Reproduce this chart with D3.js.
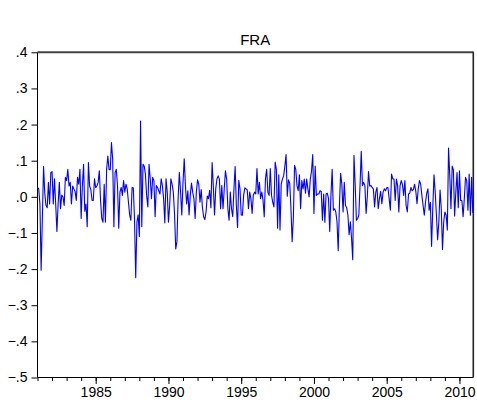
<!DOCTYPE html>
<html>
<head>
<meta charset="utf-8">
<script src="https://cdn.jsdelivr.net/npm/d3@7"></script>
<style>
  body { margin: 0; background: #fff; }
  svg { display: block; }
  text { font-family: Arial, "Liberation Sans", sans-serif; fill: #000; }
</style>
</head>
<body>
<svg id="chart" width="477" height="407"></svg>
<script>
// Monthly series, 1981M01 - 2010M12
const title = "FRA";
const startYear = 1981;
const returns = [
  0.026, 0.022, -0.02, -0.203, -0.06, 0.084, 0.01, -0.024, -0.03, 0.04, -0.02, 0.067,      // 1981
  0.07, -0.02, 0.05, -0.02, -0.096, -0.02, 0.04, -0.033, 0.005, 0.0, -0.024, 0.054,       // 1982
  0.045, 0.076, 0.03, 0.04, -0.02, 0.03, 0.022, 0.015, -0.01, 0.054, 0.035, 0.076,        // 1983
  -0.06, 0.03, 0.09, -0.04, -0.02, -0.083, 0.095, 0.03, 0.02, -0.01, -0.01, 0.05,         // 1984
  0.025, 0.03, 0.04, 0.072, -0.01, -0.06, -0.07, 0.035, -0.07, 0.076, 0.113, 0.076,       // 1985
  0.075, 0.15, 0.104, -0.083, 0.067, 0.076, 0.03, -0.087, 0.013, 0.026, 0.004, 0.045,     // 1986
  0.013, 0.035, 0.022, -0.015, -0.05, -0.065, 0.026, 0.025, -0.06, -0.224, -0.07, -0.05,  // 1987
  -0.11, 0.21, -0.083, 0.09, 0.085, 0.063, 0.004, -0.028, 0.09, 0.05, -0.005, 0.054,      // 1988
  0.045, -0.055, 0.031, 0.026, 0.017, 0.008, 0.05, 0.031, -0.005, -0.072, 0.05, 0.013,    // 1989
  -0.07, -0.024, 0.05, 0.035, 0.013, -0.046, -0.144, -0.124, -0.001, 0.067, 0.013, -0.05, // 1990
  0.04, 0.105, 0.031, -0.02, 0.017, -0.05, 0.004, 0.038, 0.013, -0.005, -0.06, 0.013,     // 1991
  0.047, 0.035, -0.015, 0.02, -0.028, -0.055, -0.063, -0.042, 0.002, -0.005, 0.018, -0.03,// 1992
  0.095, 0.03, -0.05, 0.022, 0.05, 0.058, 0.049, -0.033, 0.031, -0.033, 0.022, 0.072,     // 1993
  0.049, -0.033, -0.065, 0.013, -0.033, -0.055, 0.022, 0.084, -0.024, -0.085, 0.046, 0.022,// 1994
  -0.05, -0.051, 0.004, 0.025, 0.022, 0.019, -0.033, 0.013, -0.005, -0.046, 0.005, 0.013, // 1995
  0.008, 0.078, 0.008, 0.04, -0.005, 0.013, -0.01, -0.055, 0.05, 0.076, 0.013, 0.004,     // 1996
  0.078, 0.004, -0.015, -0.028, 0.096, 0.076, -0.087, 0.061, -0.092, 0.035, 0.049, 0.058, // 1997
  0.085, 0.117, 0.002, 0.047, 0.038, -0.03, -0.124, -0.06, 0.087, 0.076, 0.031, 0.017,    // 1998
  0.061, -0.033, 0.045, 0.022, 0.049, 0.01, 0.049, 0.022, 0.0, 0.049, 0.072, 0.117,       // 1999
  -0.046, 0.085, 0.004, 0.008, 0.008, 0.017, 0.015, -0.065, 0.008, -0.07, 0.008, 0.01,    // 2000
  -0.005, -0.096, 0.004, 0.076, -0.037, -0.033, -0.042, -0.069, -0.149, -0.024, 0.065, 0.035, // 2001
  -0.042, 0.04, -0.024, -0.03, -0.051, -0.105, -0.069, -0.115, -0.174, 0.115, 0.035, -0.065,  // 2002
  -0.06, -0.051, 0.031, 0.126, 0.031, 0.04, 0.031, -0.046, 0.0, 0.07, 0.03, 0.031,        // 2003
  0.026, 0.022, -0.028, 0.013, 0.026, -0.033, -0.005, 0.015, -0.019, 0.013, 0.022, 0.017, // 2004
  0.025, 0.026, -0.005, -0.037, 0.063, 0.05, 0.049, -0.01, 0.049, 0.031, -0.042, 0.03,    // 2005
  0.045, 0.033, 0.004, 0.045, -0.024, -0.042, 0.008, 0.01, 0.026, 0.017, 0.02, 0.035,     // 2006
  0.015, -0.019, 0.022, 0.045, 0.035, 0.004, -0.024, -0.051, -0.015, 0.01, 0.022, -0.037, // 2007
  -0.015, -0.137, -0.03, 0.061, 0.013, -0.051, -0.119, -0.069, 0.019, -0.033, -0.146, -0.069, // 2008
  -0.042, -0.051, -0.092, 0.135, 0.058, -0.033, 0.085, 0.075, -0.053, 0.013, 0.067, -0.03, // 2009
  0.072, -0.01, -0.01, -0.055, -0.005, 0.054, 0.045, -0.037, 0.063, -0.051, 0.054, -0.045 // 2010
];
const yTicks = [0.4, 0.3, 0.2, 0.1, 0.0, -0.1, -0.2, -0.3, -0.4, -0.5];
const xMinorYears = d3.range(1981, 2011);
const xLabelYears = [1985, 1990, 1995, 2000, 2005, 2010];

const svg = d3.select("#chart");
const plot = { left: 37.5, right: 472.8, top: 52.3, bottom: 377.5 };

const points = returns.map((v, i) => ({ t: startYear + i / 12, v }));

const x = d3.scaleLinear()
  .domain([startYear, startYear + (returns.length - 1) / 12])
  .range([plot.left, plot.right]);
const y = d3.scaleLinear()
  .domain([-0.5, 0.4])
  .range([plot.bottom, plot.top]);

// EViews-style labels: drop the leading zero (".4", "-.1")
const fmt = d => d3.format(".1f")(d).replace("0.", ".");

// title
svg.append("text")
  .attr("x", (plot.left + plot.right) / 2)
  .attr("y", 45)
  .attr("text-anchor", "middle")
  .style("font-size", "15px")
  .text(title);

// y axis
const yAxis = svg.append("g")
  .attr("transform", `translate(${plot.left},0)`)
  .call(d3.axisLeft(y).tickValues(yTicks).tickFormat(fmt).tickSize(6).tickPadding(4));
yAxis.select(".domain").remove();
yAxis.selectAll("line").attr("stroke", "#000");
yAxis.selectAll("text").style("font-size", "14px").style("font-family", "Arial, 'Liberation Sans', sans-serif");

// x axis: yearly minor ticks, labelled every five years
const xMinor = svg.append("g")
  .attr("transform", `translate(0,${plot.bottom})`)
  .call(d3.axisBottom(x).tickValues(xMinorYears).tickFormat("").tickSize(3.5));
xMinor.select(".domain").remove();
xMinor.selectAll("line").attr("stroke", "#000");

const xAxis = svg.append("g")
  .attr("transform", `translate(0,${plot.bottom})`)
  .call(d3.axisBottom(x).tickValues(xLabelYears).tickFormat(d3.format("d")).tickSize(6.5).tickPadding(3.5));
xAxis.select(".domain").remove();
xAxis.selectAll("line").attr("stroke", "#000");
xAxis.selectAll("text").style("font-size", "14px").style("font-family", "Arial, 'Liberation Sans', sans-serif");

// frame
svg.append("line").attr("x1", plot.left).attr("x2", plot.left)
  .attr("y1", plot.top).attr("y2", plot.bottom).attr("stroke", "#000").attr("stroke-width", 1);
svg.append("line").attr("x1", plot.left).attr("x2", plot.right + 0.5)
  .attr("y1", plot.bottom).attr("y2", plot.bottom).attr("stroke", "#000").attr("stroke-width", 1);
svg.append("line").attr("x1", plot.left).attr("x2", plot.right + 1)
  .attr("y1", plot.top).attr("y2", plot.top).attr("stroke", "#444").attr("stroke-width", 2);
svg.append("line").attr("x1", plot.right + 0.5).attr("x2", plot.right + 0.5)
  .attr("y1", plot.top).attr("y2", plot.bottom).attr("stroke", "#222").attr("stroke-width", 1.6);

// series
svg.append("path")
  .datum(points)
  .attr("fill", "none")
  .attr("stroke", "#0000ff")
  .attr("stroke-width", 1.1)
  .attr("stroke-linejoin", "round")
  .attr("d", d3.line().x(d => x(d.t)).y(d => y(d.v)));
</script>
</body>
</html>
